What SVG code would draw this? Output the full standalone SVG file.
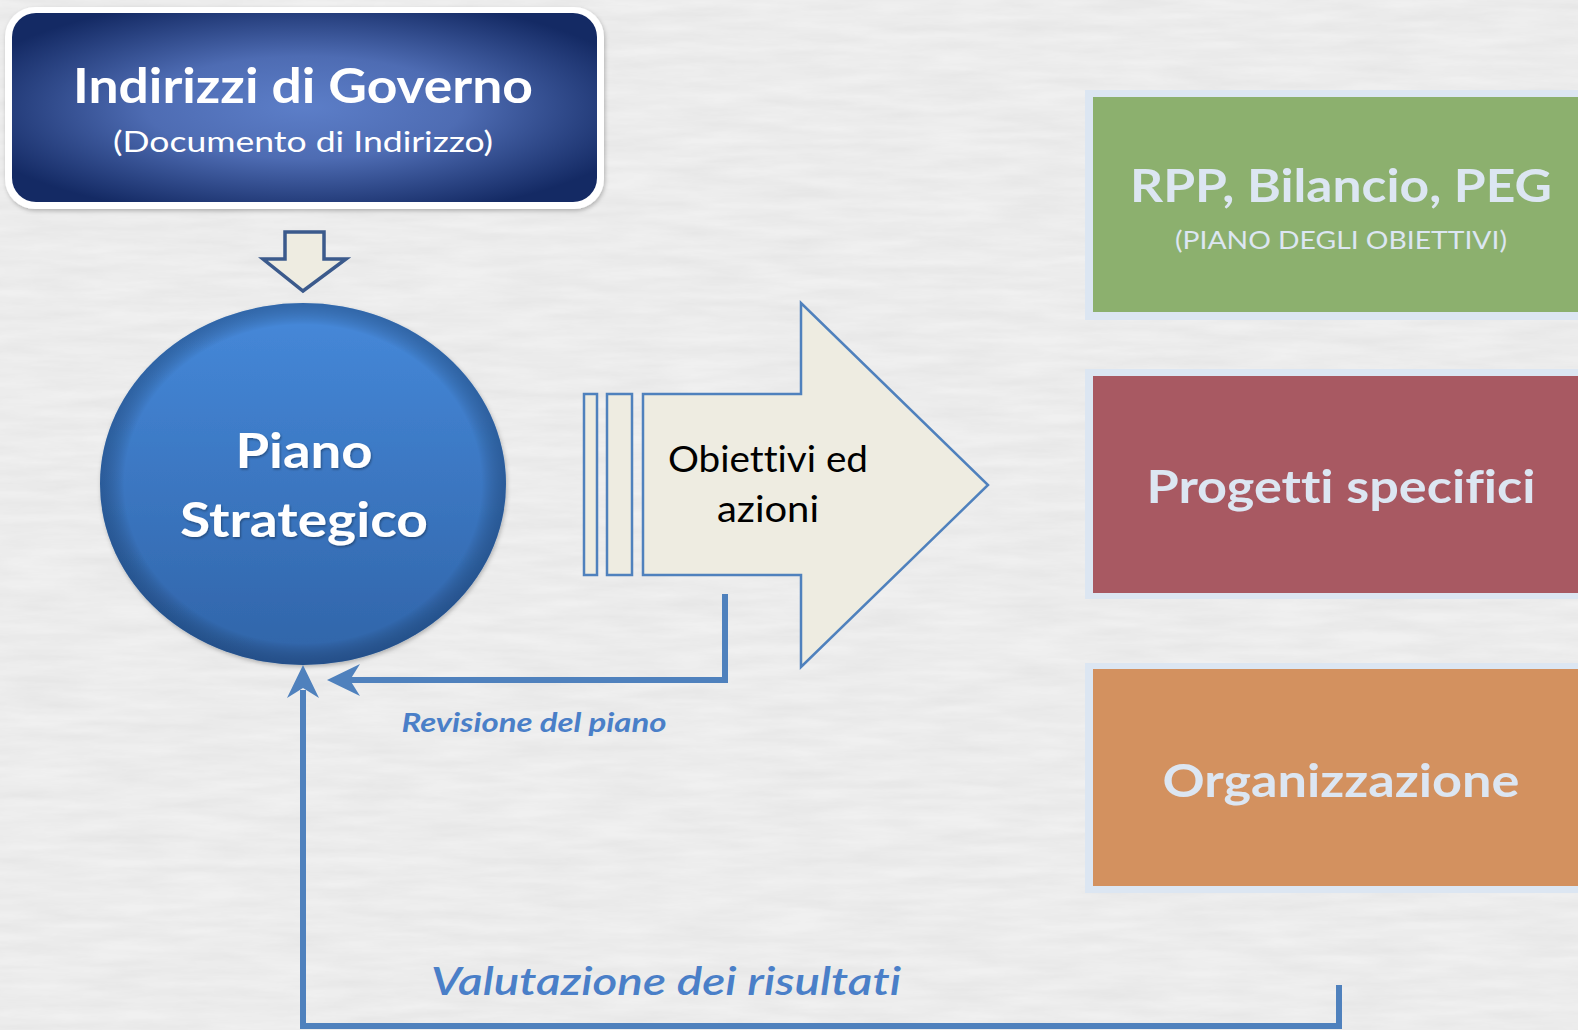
<svg xmlns="http://www.w3.org/2000/svg" width="1578" height="1030" viewBox="0 0 1578 1030">
<defs>
  <filter id="paper" x="0" y="0" width="100%" height="100%">
    <feTurbulence type="fractalNoise" baseFrequency="0.012 0.09" numOctaves="4" seed="7" result="n"/>
    <feColorMatrix in="n" type="matrix" values="0 0 0 0 0.62  0 0 0 0 0.62  0 0 0 0 0.62  0 0 0 0.4 -0.08"/>
  </filter>
  <radialGradient id="gTop" cx="0.5" cy="0.5" r="0.6" fx="0.5" fy="0.5">
    <stop offset="0" stop-color="#5c7ec8"/>
    <stop offset="0.45" stop-color="#4e6cb3"/>
    <stop offset="1" stop-color="#142a64"/>
  </radialGradient>
  <linearGradient id="gCirc" x1="0" y1="0" x2="0" y2="1">
    <stop offset="0" stop-color="#4689da"/>
    <stop offset="1" stop-color="#3064a8"/>
  </linearGradient>
  <radialGradient id="gCircEdge" cx="0.5" cy="0.5" r="0.5">
    <stop offset="0.88" stop-color="#000" stop-opacity="0"/>
    <stop offset="1" stop-color="#0a2850" stop-opacity="0.35"/>
  </radialGradient>
  <filter id="shadow" x="-10%" y="-10%" width="120%" height="120%">
    <feDropShadow dx="1" dy="2" stdDeviation="2" flood-color="#000" flood-opacity="0.25"/>
  </filter>
  <filter id="tshadow" x="-5%" y="-20%" width="110%" height="140%">
    <feDropShadow dx="1" dy="1.5" stdDeviation="1" flood-color="#000" flood-opacity="0.35"/>
  </filter>
</defs>
<style>
  text { font-family: "Lato", "Open Sans", "Liberation Sans", sans-serif; text-anchor: middle; font-variant-ligatures: none; }
  .hw { fill: #ffffff; font-weight: bold; }
  .lt { fill: #dce6f2; font-weight: bold; }
  .shape { fill: #eeece1; stroke: #4f81bd; stroke-width: 2.5; stroke-linejoin: miter; }
  .conn { fill: none; stroke: #4f81bd; stroke-width: 6; }
  .head { fill: #4f81bd; }
  .lbl { fill: #4a7fc8; font-style: italic; }
  .border { fill: #dce6f2; }
</style>

<rect width="1578" height="1030" fill="#f0f0f0"/>
<rect width="1578" height="1030" filter="url(#paper)"/>

<g id="indirizzi">
  <rect x="5" y="7" width="599" height="202" rx="30" fill="#ffffff" filter="url(#shadow)"/>
  <rect x="12" y="13" width="585" height="189" rx="24" fill="url(#gTop)"/>
  <text class="hw" x="303" y="103" font-size="48" textLength="460" lengthAdjust="spacingAndGlyphs">Indirizzi di Governo</text>
  <text x="303" y="152" font-size="28" fill="#ffffff" textLength="380" lengthAdjust="spacingAndGlyphs">(Documento di Indirizzo)</text>
</g>

<g id="freccia-giu">
  <path d="M285,232 H324 V259 H346 L303,291 L263,259 H285 Z" fill="#eeece1" stroke="#3b5a8c" stroke-width="3.5" stroke-linejoin="miter"/>
</g>

<g id="piano-strategico">
  <ellipse cx="303" cy="484" rx="203" ry="181" fill="url(#gCirc)" filter="url(#shadow)"/>
  <ellipse cx="303" cy="484" rx="203" ry="181" fill="url(#gCircEdge)"/>
  <text class="hw" x="304" y="468" font-size="48" textLength="137" lengthAdjust="spacingAndGlyphs" filter="url(#tshadow)">Piano</text>
  <text class="hw" x="304" y="537" font-size="48" textLength="248" lengthAdjust="spacingAndGlyphs" filter="url(#tshadow)">Strategico</text>
</g>

<g id="obiettivi">
  <rect class="shape" x="584" y="394" width="13" height="181"/>
  <rect class="shape" x="607" y="394" width="25" height="181"/>
  <path class="shape" d="M643,394 H801 V303 L988,485 L801,667 V575 H643 Z"/>
  <text x="768" y="472" font-size="36" fill="#000000" textLength="200" lengthAdjust="spacingAndGlyphs">Obiettivi ed</text>
  <text x="768" y="522" font-size="36" fill="#000000" textLength="102" lengthAdjust="spacingAndGlyphs">azioni</text>
</g>

<g id="rpp">
  <rect class="border" x="1085" y="90" width="500" height="230"/>
  <rect x="1093" y="97" width="492" height="215" fill="#8cb06e"/>
  <text class="lt" x="1341" y="202" font-size="46" textLength="422" lengthAdjust="spacingAndGlyphs">RPP, Bilancio, PEG</text>
  <text x="1341" y="249" font-size="25" fill="#dce6f2" textLength="332" lengthAdjust="spacingAndGlyphs">(PIANO DEGLI OBIETTIVI)</text>
</g>

<g id="progetti">
  <rect class="border" x="1085" y="369" width="500" height="230"/>
  <rect x="1093" y="376" width="492" height="217" fill="#a85962"/>
  <text class="lt" x="1341" y="503" font-size="46" textLength="389" lengthAdjust="spacingAndGlyphs">Progetti specifici</text>
</g>

<g id="organizzazione">
  <rect class="border" x="1085" y="663" width="500" height="230"/>
  <rect x="1093" y="669" width="492" height="217" fill="#d3915f"/>
  <text class="lt" x="1341" y="797" font-size="46" textLength="357" lengthAdjust="spacingAndGlyphs">Organizzazione</text>
</g>

<g id="connectors">
  <path class="conn" d="M725,594 V680 H350"/>
  <path class="head" d="M327,680 L360,664 L350,680 L360,696 Z"/>
  <path class="conn" d="M1339,985 V1026 H303 V690"/>
  <path class="head" d="M303,665 L319,698 L303,688 L287,698 Z"/>
  <text class="lbl" x="534" y="732" font-size="26" font-weight="bold" textLength="265" lengthAdjust="spacingAndGlyphs">Revisione del piano</text>
  <text class="lbl" x="666" y="995" font-size="39" font-weight="600" textLength="470" lengthAdjust="spacingAndGlyphs">Valutazione dei risultati</text>
</g>
</svg>
